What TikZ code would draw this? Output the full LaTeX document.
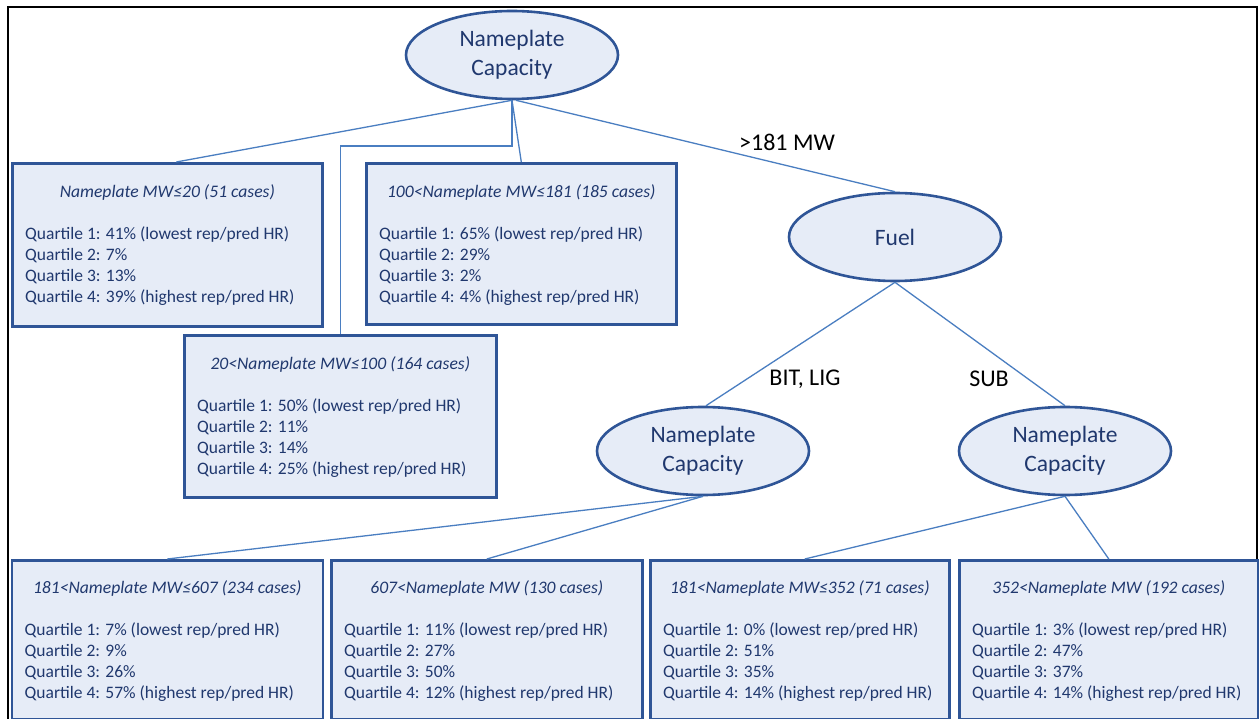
\documentclass[tikz,border=0pt]{standalone}
\usepackage{fontspec}
\setmainfont{Carlito}
\usetikzlibrary{shapes.geometric,calc}
\definecolor{boxfill}{RGB}{230,236,247}
\definecolor{boxline}{RGB}{47,85,151}
\definecolor{conn}{RGB}{74,126,193}
\definecolor{txt}{RGB}{32,56,110}
\tikzset{
  ell/.style={ellipse,draw=boxline,line width=2.6pt,fill=boxfill,minimum width=212pt,minimum height=88pt,inner sep=0pt,text=txt,align=center,font=\fontsize{23.5}{29}\selectfont},
  leaf/.style={rectangle,draw=boxline,line width=2.6pt,fill=boxfill,anchor=north west,inner sep=0pt},
  ttl/.style={anchor=center,text=txt,font=\fontsize{17.6}{21}\selectfont\itshape,inner sep=0pt},
  body/.style={anchor=north west,text=txt,align=left,font=\fontsize{17.5}{21.3}\selectfont,inner sep=0pt},
  lnk/.style={draw=conn,line width=1.3pt},
  lbl/.style={text=black,font=\fontsize{24}{28}\selectfont,inner sep=0pt}
}
\begin{document}
\begin{tikzpicture}[x=1pt,y=-1pt]
\useasboundingbox (0,0) rectangle (1259,719);
\clip (0,0) rectangle (1259,719);
\fill[white] (0,0) rectangle (1259,719);
\draw[black,line width=2.2pt] (8,725) -- (8,7) -- (1257,7) -- (1257,725);

% ellipses
\node[ell] (top) at (512,55) {Nameplate\\Capacity};
\node[ell] (fuel) at (895,237) {Fuel};
\node[ell] (nl) at (703,451) {Nameplate\\Capacity};
\node[ell] (nr) at (1065,451) {Nameplate\\Capacity};

% top row boxes
\node[leaf,minimum width=310pt,minimum height=163pt] (b1) at (11,162) {};
\node[leaf,minimum width=310pt,minimum height=161pt] (b2) at (365,162) {};
\node[leaf,minimum width=312pt,minimum height=162pt] (b3) at (183,334) {};
% bottom boxes
\node[leaf,minimum width=311pt,minimum height=159pt] (ba) at (10.5,559) {};
\node[leaf,minimum width=311pt,minimum height=159pt] (bb) at (330,559) {};
\node[leaf,minimum width=299pt,minimum height=159pt] (bc) at (649,559) {};
\node[leaf,minimum width=299pt,minimum height=159pt] (bd) at (958,559) {};

% texts
\node[ttl] (b1t) at ($(b1.north)+(0,30)$) {Nameplate MW≤20 (51 cases)};
\node[body] (b1q) at ($(b1.north west)+(14,64)$) {Quartile 1: 41\% (lowest rep/pred HR)\\Quartile 2: 7\%\\Quartile 3: 13\%\\Quartile 4: 39\% (highest rep/pred HR)};
\node[ttl] (b2t) at ($(b2.north)+(0,30)$) {100<Nameplate MW≤181 (185 cases)};
\node[body] (b2q) at ($(b2.north west)+(14,64)$) {Quartile 1: 65\% (lowest rep/pred HR)\\Quartile 2: 29\%\\Quartile 3: 2\%\\Quartile 4: 4\% (highest rep/pred HR)};
\node[ttl] (b3t) at ($(b3.north)+(0,30)$) {20<Nameplate MW≤100 (164 cases)};
\node[body] (b3q) at ($(b3.north west)+(14,64)$) {Quartile 1: 50\% (lowest rep/pred HR)\\Quartile 2: 11\%\\Quartile 3: 14\%\\Quartile 4: 25\% (highest rep/pred HR)};
\node[ttl] (bat) at ($(ba.north)+(0,29)$) {181<Nameplate MW≤607 (234 cases)};
\node[body] (baq) at ($(ba.north west)+(14,63)$) {Quartile 1: 7\% (lowest rep/pred HR)\\Quartile 2: 9\%\\Quartile 3: 26\%\\Quartile 4: 57\% (highest rep/pred HR)};
\node[ttl] (bbt) at ($(bb.north)+(0,29)$) {607<Nameplate MW (130 cases)};
\node[body] (bbq) at ($(bb.north west)+(14,63)$) {Quartile 1: 11\% (lowest rep/pred HR)\\Quartile 2: 27\%\\Quartile 3: 50\%\\Quartile 4: 12\% (highest rep/pred HR)};
\node[ttl] (bct) at ($(bc.north)+(0,29)$) {181<Nameplate MW≤352 (71 cases)};
\node[body] (bcq) at ($(bc.north west)+(14,63)$) {Quartile 1: 0\% (lowest rep/pred HR)\\Quartile 2: 51\%\\Quartile 3: 35\%\\Quartile 4: 14\% (highest rep/pred HR)};
\node[ttl] (bdt) at ($(bd.north)+(0,29)$) {352<Nameplate MW (192 cases)};
\node[body] (bdq) at ($(bd.north west)+(14,63)$) {Quartile 1: 3\% (lowest rep/pred HR)\\Quartile 2: 47\%\\Quartile 3: 37\%\\Quartile 4: 14\% (highest rep/pred HR)};

% labels
\node[lbl] (l181) at (787,142) {>181 MW};
\node[lbl] (lbit) at (805,379) {BIT, LIG};
\node[lbl] (lsub) at (989,379) {SUB};

% connectors
\coordinate (elbow) at (512,146);
\draw[lnk] (top.south) -- ($(b1.north)+(9,0)$);
\draw[lnk] (top.south) -- (elbow) -| (b3.north);
\draw[lnk] (top.south) -- (b2.north);
\draw[lnk] ($(top.south)+(4,0)$) -- (fuel.north);
\draw[lnk] (fuel.south) -- ($(nl.north)+(3,0)$);
\draw[lnk] (fuel.south) -- (nr.north);
\draw[lnk] (nl.south) -- (ba.north);
\draw[lnk] (nl.south) -- (bb.north);
\draw[lnk] (nr.south) -- ($(bc.north)+(5,0)$);
\draw[lnk] (nr.south) -- (bd.north);
\end{tikzpicture}
\end{document}
